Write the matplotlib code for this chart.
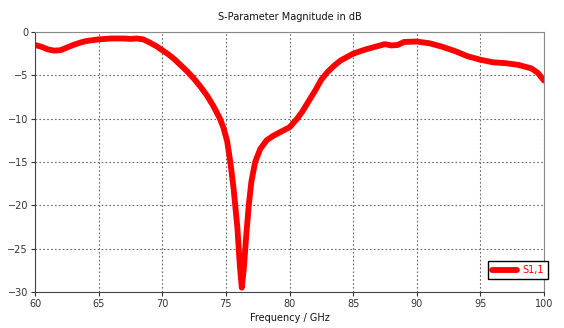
import matplotlib
matplotlib.use("Agg")
import matplotlib.pyplot as plt

# S11 magnitude (dB) versus frequency (GHz)
freq_ghz = [60, 60.5, 61, 61.5, 62, 62.5, 63, 63.5, 64, 65, 66, 67, 67.5, 68, 68.5,
            69, 69.5, 70, 70.5, 71, 71.5, 72, 72.5, 73, 73.5, 74, 74.5, 74.8, 75.1,
            75.35, 75.6, 75.9, 76.1, 76.25, 76.4, 76.6, 76.8, 77.0, 77.3, 77.7, 78.2,
            78.7, 79.2, 80, 80.6, 81, 81.5, 82, 82.5, 83, 83.5, 84, 85, 86, 87, 87.5,
            88, 88.5, 89, 90, 91, 92, 93, 94, 95, 96, 97, 98, 99, 99.5, 100]
s11_db = [-1.5, -1.7, -2.0, -2.15, -2.1, -1.8, -1.5, -1.25, -1.05, -0.85, -0.75, -0.75,
          -0.8, -0.75, -0.85, -1.2, -1.6, -2.1, -2.6, -3.2, -3.9, -4.6, -5.4, -6.3,
          -7.3, -8.5, -9.9, -11.0, -12.6, -15.0, -18.0, -22.5, -27.0, -29.5, -27.5,
          -23.5, -20.0, -17.3, -15.0, -13.5, -12.5, -12.0, -11.6, -11.0, -10.0, -9.2,
          -8.0, -6.8, -5.5, -4.6, -3.9, -3.3, -2.5, -2.0, -1.6, -1.4, -1.55, -1.5,
          -1.15, -1.1, -1.3, -1.7, -2.2, -2.8, -3.2, -3.5, -3.6, -3.8, -4.2, -4.7, -5.6]
series_label = "S1,1"
x_ticks = [60, 65, 70, 75, 80, 85, 90, 95, 100]
y_ticks = [0, -5, -10, -15, -20, -25, -30]

fig = plt.figure(figsize=(5.64, 3.28), dpi=100)
ax = fig.add_axes([35 / 564, 1 - 292 / 328, (544 - 35) / 564, (292 - 32) / 328])

ax.plot(freq_ghz, s11_db, color="#ff0000", linewidth=4.2, solid_capstyle="round",
        solid_joinstyle="round", label=series_label)

ax.set_xlim(60, 100)
ax.set_ylim(-30, 0)
ax.set_xticks(x_ticks)
ax.set_yticks(y_ticks)
ax.tick_params(labelsize=7, length=3, width=0.8, colors="#333333", pad=2)
ax.grid(True, linestyle=(0, (1.5, 2)), color="#666666", linewidth=0.8)
for side in ("left", "bottom"):
    ax.spines[side].set_color("#444444")
for side in ("top", "right"):
    ax.spines[side].set_color("#888888")

ax.set_title("S-Parameter Magnitude in dB", fontsize=7, pad=9, color="#111111")
ax.set_xlabel("Frequency / GHz", fontsize=7, labelpad=3, color="#111111")

leg = ax.legend(loc="lower right", fontsize=7, fancybox=False, framealpha=1,
                edgecolor="black", handlelength=2.6, handletextpad=0.6,
                borderpad=0.4, borderaxespad=0, bbox_to_anchor=(1.008, 0.05))
for text in leg.get_texts():
    text.set_color("#ff0000")
leg.get_frame().set_linewidth(1.0)

fig.savefig("out.png", dpi=100)
